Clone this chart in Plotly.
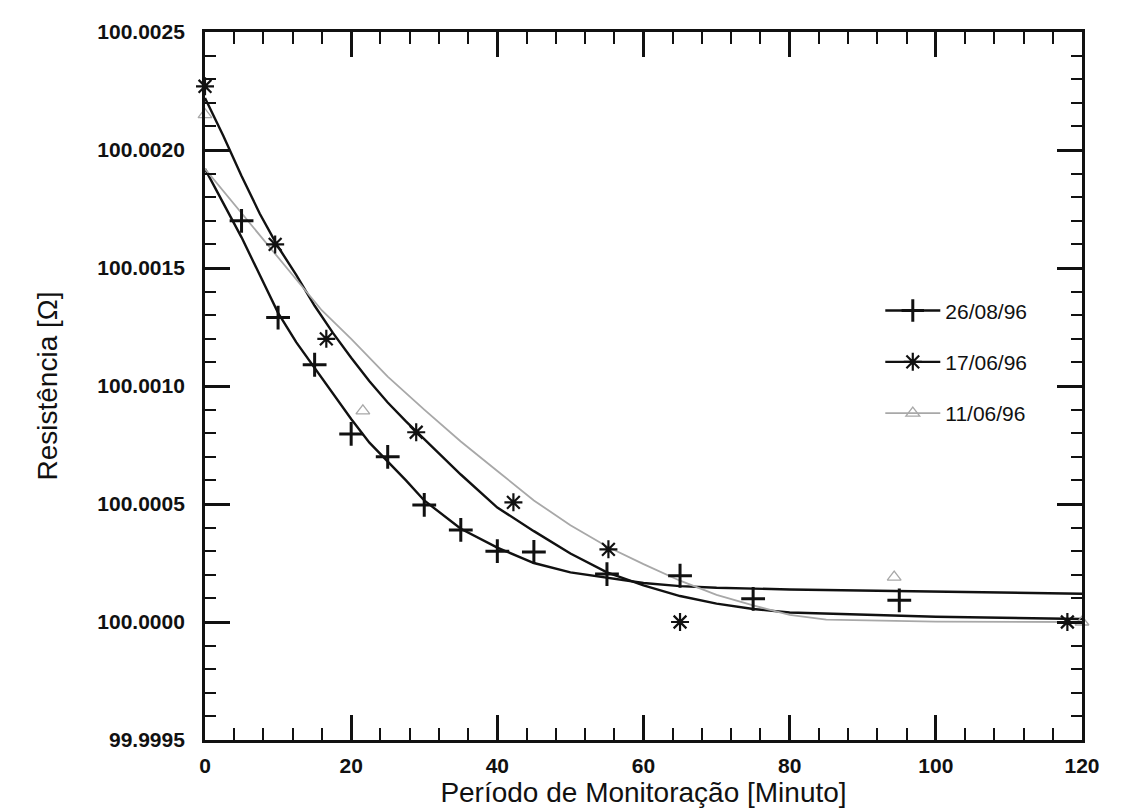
import plotly.graph_objects as go

# ---------------- data ----------------
# measured points, resistance in ohm
x_2608 = [5, 10, 15, 20, 25, 30, 35, 40, 45, 55, 65, 75, 95]
y_2608 = [100.00170, 100.00129, 100.00109, 100.000797, 100.00070, 100.000496,
          100.00039, 100.00030, 100.000297, 100.000203, 100.000196, 100.000098, 100.000092]

x_1706 = [0, 9.6, 16.6, 28.9, 42.2, 55.2, 65, 118]
y_1706 = [100.00227, 100.00160, 100.00120, 100.000804, 100.000507, 100.000308, 100.00000, 100.00000]

x_1106 = [0, 21.6, 94.3, 120]
y_1106 = [100.00215, 100.000895, 100.00019, 100.00000]

# fitted curves
fit_x_2608 = [0, 2.5, 5, 7.5, 10, 12.5, 15, 17.5, 20, 22.5, 25, 27.5, 30, 35, 40, 45,
              50, 55, 60, 65, 70, 80, 90, 100, 120]
fit_y_2608 = [100.00192, 100.001776, 100.00163, 100.00147, 100.00131, 100.001185, 100.001075,
              100.00097, 100.00086, 100.00076, 100.00068, 100.00060, 100.000515, 100.000395,
              100.000315, 100.00025, 100.00021, 100.000188, 100.000165, 100.000152, 100.000145,
              100.000138, 100.000133, 100.000128, 100.00012]

fit_x_1706 = [0, 2.5, 5, 7.5, 10, 12.5, 15, 17.5, 20, 22.5, 25, 27.5, 30, 35, 40, 45, 50,
              55, 60, 65, 70, 75, 80, 90, 100, 120]
fit_y_1706 = [100.00222, 100.00206, 100.00189, 100.00173, 100.00159, 100.00147, 100.00134,
              100.001225, 100.00112, 100.00102, 100.00093, 100.00085, 100.000775, 100.000625,
              100.000485, 100.000385, 100.00029, 100.00021, 100.000155, 100.00011, 100.000078,
              100.000055, 100.00004, 100.00003, 100.000022, 100.000013]

fit_x_1106 = [0, 4, 8, 12, 16, 20, 25, 30, 35, 40, 45, 50, 55, 60, 65, 70, 75, 80, 85, 100, 120]
fit_y_1106 = [100.00192, 100.00177, 100.00162, 100.00147, 100.00132, 100.00120, 100.00104,
              100.00090, 100.000765, 100.00064, 100.000515, 100.00041, 100.00032, 100.000245,
              100.000175, 100.000115, 100.00007, 100.00003, 100.00001, 100.000002, 100.0]

series_names = ["26/08/96", "17/06/96", "11/06/96"]

x_ticks = [0, 20, 40, 60, 80, 100, 120]
y_ticks = [99.9995, 100.0000, 100.0005, 100.0010, 100.0015, 100.0020, 100.0025]
y_tick_text = ["99.9995", "100.0000", "100.0005", "100.0010", "100.0015", "100.0020", "100.0025"]
y_minor = [99.9995 + 0.0001 * i for i in range(31)]
x_minor = [4 * i for i in range(31)]

x_title = "Período de Monitoração [Minuto]"
y_title = "Resistência [Ω]"

# ---------------- figure ----------------
BLACK = "#111111"
GREY = "#a8a8a8"
FONT = "Liberation Sans, Arial, sans-serif"

fig = go.Figure()

# fit curves
fig.add_trace(go.Scatter(x=fit_x_2608, y=fit_y_2608, mode="lines",
                         line=dict(color=BLACK, width=2.4), showlegend=False, hoverinfo="skip"))
fig.add_trace(go.Scatter(x=fit_x_1706, y=fit_y_1706, mode="lines",
                         line=dict(color=BLACK, width=2.4), showlegend=False, hoverinfo="skip"))
fig.add_trace(go.Scatter(x=fit_x_1106, y=fit_y_1106, mode="lines",
                         line=dict(color=GREY, width=1.8), showlegend=False, hoverinfo="skip"))

# measured points
fig.add_trace(go.Scatter(x=x_2608, y=y_2608, mode="markers", showlegend=False, cliponaxis=False,
                         marker=dict(symbol="cross-thin", size=17, color=BLACK,
                                     line=dict(color=BLACK, width=3))))
fig.add_trace(go.Scatter(x=x_1706, y=y_1706, mode="markers", showlegend=False, cliponaxis=False,
                         marker=dict(symbol="asterisk-open", size=15, color=BLACK,
                                     line=dict(color=BLACK, width=2.2))))
fig.add_trace(go.Scatter(x=x_1106, y=y_1106, mode="markers", showlegend=False, cliponaxis=False,
                         marker=dict(symbol="triangle-up-open", size=12, color=GREY,
                                     line=dict(color=GREY, width=1.3))))

# legend entries
legend_styles = [
    dict(color=BLACK, symbol="cross-thin", size=17, lw=2.4, mlw=3),
    dict(color=BLACK, symbol="asterisk-open", size=15, lw=2.4, mlw=2.2),
    dict(color=GREY, symbol="triangle-up-open", size=12, lw=1.8, mlw=1.3),
]
for name, st in zip(series_names, legend_styles):
    fig.add_trace(go.Scatter(x=[None], y=[None], mode="lines+markers", name=name,
                             legendgroup=name,
                             line=dict(color=st["color"], width=st["lw"]),
                             marker=dict(symbol=st["symbol"], size=st["size"], color=st["color"],
                                         line=dict(color=st["color"], width=st["mlw"]))))

axis_common = dict(
    showline=True, linecolor=BLACK, linewidth=2.8, mirror="ticks",
    ticks="inside", tickcolor=BLACK, tickwidth=2.6, ticklen=25,
    showgrid=False, zeroline=False,
    tickfont=dict(family=FONT, size=21, color=BLACK, weight="bold"),
    title_font=dict(family=FONT, size=28, color=BLACK),
)

# the page body adds an 8 px offset, so margins are reduced by 8 on the left/top
fig.update_layout(
    width=1130, height=811,
    margin=dict(l=197, r=56, t=17, b=79),
    plot_bgcolor="white", paper_bgcolor="white",
    font=dict(family=FONT, color=BLACK),
    xaxis=dict(range=[0, 120], tickmode="array", tickvals=x_ticks,
               minor=dict(tickmode="array", tickvals=x_minor, ticks="inside", ticklen=12,
                          tickwidth=2.4, tickcolor=BLACK),
               ticklabelstandoff=5,
               title=dict(text=x_title, standoff=4), **axis_common),
    yaxis=dict(range=[99.9995, 100.0025], tickmode="array", tickvals=y_ticks, ticktext=y_tick_text,
               minor=dict(tickmode="array", tickvals=y_minor, ticks="inside", ticklen=11,
                          tickwidth=2.4, tickcolor=BLACK),
               ticklabelstandoff=13,
               title=dict(text=y_title, standoff=32), **axis_common),
    legend=dict(x=0.77, y=0.635, xanchor="left", yanchor="top",
                bgcolor="rgba(255,255,255,0)", borderwidth=0,
                font=dict(family=FONT, size=21, color=BLACK),
                tracegroupgap=21, itemwidth=55),
)

fig.write_html("out.html")
